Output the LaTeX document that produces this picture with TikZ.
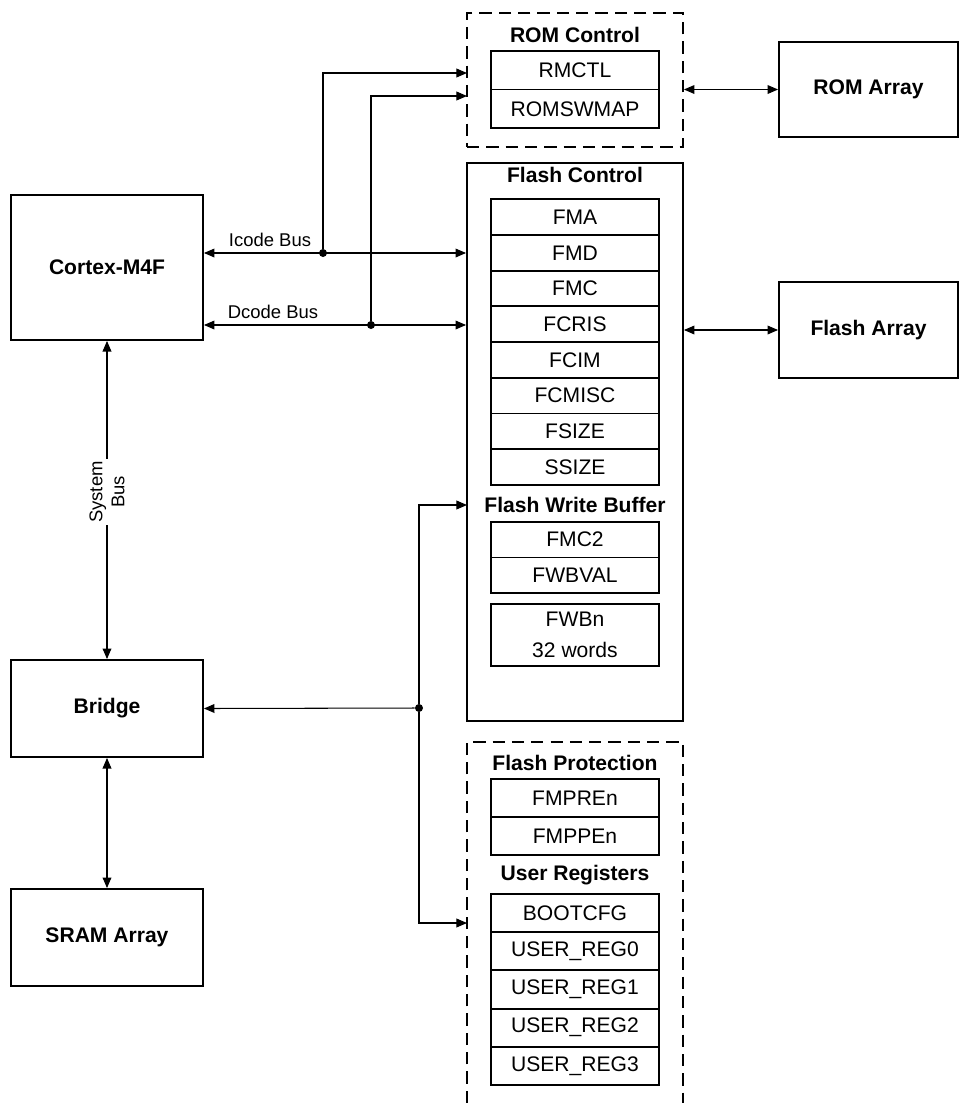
\documentclass[tikz,border=0pt]{standalone}
\usepackage{fontspec}
\setmainfont{Liberation Sans}
\usetikzlibrary{arrows.meta}

\begin{document}
\begin{tikzpicture}[x=0.02cm,y=-0.02cm,
    font=\fontsize{12}{14.4}\selectfont,
    blk/.style={draw,line width=1.1pt,font=\fontsize{12}{14.4}\selectfont\bfseries},
    reg/.style={draw,line width=1.1pt,minimum width=3.36cm,inner sep=0pt},
    ttl/.style={font=\fontsize{12}{14.4}\selectfont\bfseries},
    grp/.style={draw,line width=1.1pt,minimum width=4.32cm,inner sep=0pt},
    dsh/.style={dash pattern=on 7pt off 4pt},
    bus/.style={line width=0.6pt,>={Triangle[length=6pt,width=5pt]}},
    buslbl/.style={font=\fontsize{10.5}{12.5}\selectfont},
    dot/.style={circle,fill,inner sep=0pt,minimum size=0.16cm}]
    \useasboundingbox (0,0) rectangle (960,1103);

    % left column
    \node[blk,minimum width=3.84cm,minimum height=2.9cm] (cortex) at (107,267.5) {Cortex-M4F};
    \node[blk,minimum width=3.84cm,minimum height=1.94cm] (bridge) at (107,708.5) {Bridge};
    \node[blk,minimum width=3.84cm,minimum height=1.94cm] (sram) at (107,937.5) {SRAM Array};

    % right column
    \node[blk,minimum width=3.58cm,minimum height=1.9cm] (romarr) at (868.5,89.5) {ROM Array};
    \node[blk,minimum width=3.58cm,minimum height=1.92cm] (flasharr) at (868.5,330) {Flash Array};

    % ROM control
    \node[grp,dsh,minimum height=2.68cm] (romctl) at (575,80) {};
    \node[ttl] (romttl) at (575,35) {ROM Control};
    \foreach \name/\txt [count=\i] in {rmctl/RMCTL,romswmap/ROMSWMAP}
        \node[reg,minimum height=0.77cm] (\name) at (575,{51+38.5*(\i-0.5)}) {\txt};

    % flash control
    \node[grp,minimum height=11.16cm] (flashctl) at (575,442) {};
    \node[ttl] (flashttl) at (575,175) {Flash Control};
    \foreach \name/\txt [count=\i] in {fma/FMA,fmd/FMD,fmc/FMC,fcris/FCRIS,fcim/FCIM,fcmisc/FCMISC,fsize/FSIZE,ssize/SSIZE}
        \node[reg,minimum height=0.714cm] (\name) at (575,{199.3+35.7*(\i-0.5)}) {\txt};
    \node[ttl] (fwbttl) at (575,505) {Flash Write Buffer};
    \foreach \name/\txt [count=\i] in {fmcb/FMC2,fwbval/FWBVAL}
        \node[reg,minimum height=0.716cm] (\name) at (575,{521.7+35.8*(\i-0.5)}) {\txt};
    \node[reg,minimum height=1.24cm,align=center] (fwbn) at (575,635) {FWBn\\[3.5pt]32 words};

    % flash protection / user registers
    \draw[line width=1.1pt,dsh] (467,1103) -- (467,742) -- (683,742) -- (683,1103);
    \node[ttl] (protttl) at (575,763) {Flash Protection};
    \foreach \name/\txt [count=\i] in {fmpre/FMPREn,fmppe/FMPPEn}
        \node[reg,minimum height=0.76cm] (\name) at (575,{779+38*(\i-0.5)}) {\txt};
    \node[ttl] (userttl) at (575,875) {User Registers};
    \foreach \name/\txt [count=\i] in {bootcfg/BOOTCFG,ureg0/USER\_REG0,ureg1/USER\_REG1,ureg2/USER\_REG2,ureg3/USER\_REG3}
        \node[reg,minimum height=0.764cm] (\name) at (575,{894+38.2*(\i-0.5)}) {\txt};

    % junctions
    \node[dot] (icj) at (323,253) {};
    \node[dot] (dcj) at (371,325) {};
    \node[dot] (brj) at (419,708) {};
    \coordinate (romin1) at (467,73);
    \coordinate (romin2) at (467,96);
    \coordinate (flashin) at (467,505);
    \coordinate (protin) at (467,923);

    % buses
    \draw[bus,<->] (icj -| cortex.east) -- (icj -| flashctl.west);
    \draw[bus,<->] (dcj -| cortex.east) -- (dcj -| flashctl.west);
    \draw[bus,->] (icj) |- (romin1);
    \draw[bus,->] (dcj) |- (romin2);
    \node[buslbl] (icodelbl) at (270,240) {Icode Bus};
    \node[buslbl] (dcodelbl) at (273,312) {Dcode Bus};

    \draw[bus,<->] (romarr.west -| romctl.east) -- (romarr.west);
    \draw[bus,<->] (flasharr.west -| flashctl.east) -- (flasharr.west);

    \draw[bus,<->] (cortex.south) -- (bridge.north);
    \node[buslbl,rotate=90,align=center,fill=white,inner sep=1pt] (sysbus) at (107,492) {System\\Bus};
    \draw[bus,<->] (bridge.south) -- (sram.north);

    \draw[bus,->] (brj) -- (bridge.east);
    \draw[bus,->] (brj) |- (flashin);
    \draw[bus,->] (brj) |- (protin);
\end{tikzpicture}
\end{document}
